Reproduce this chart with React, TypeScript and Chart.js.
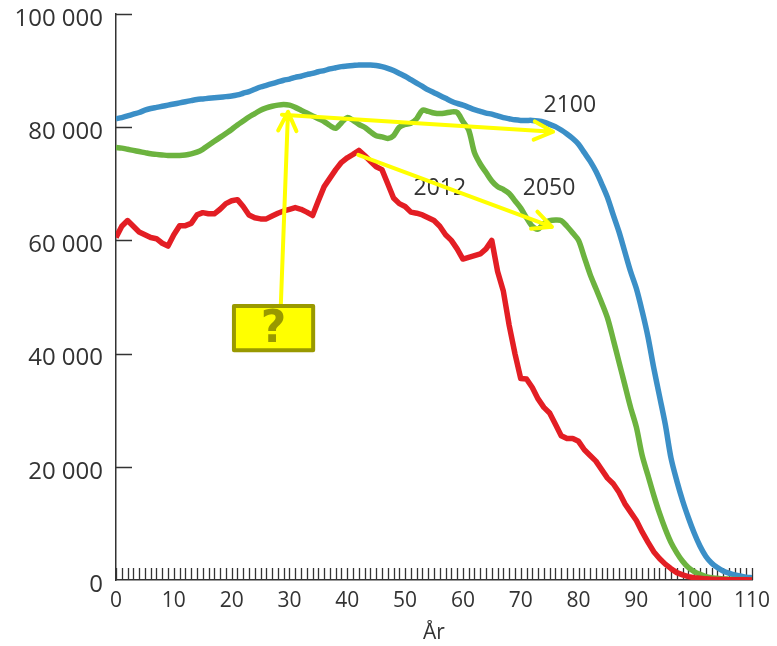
import React, { useEffect, useRef } from 'react';
import { Chart, registerables } from 'chart.js';

Chart.register(...registerables);

// Ages 0..110 (x categories)
const AGES: number[] = Array.from({ length: 111 }, (_, i) => i);

const X_TICKS = [0, 10, 20, 30, 40, 50, 60, 70, 80, 90, 100, 110];
const Y_TICKS = [0, 20000, 40000, 60000, 80000, 100000];

const SERIES_NAMES = ['2012', '2050', '2100'];

const POP_2012 = [
  60500, 62500, 63500, 62500, 61500, 61000, 60500, 60300, 59500, 59000,
  61000, 62600, 62600, 63000, 64500, 64900, 64700, 64700, 65500, 66500,
  67000, 67200, 66000, 64500, 64000, 63800, 63800, 64300, 64800, 65200,
  65500, 65800, 65500, 65000, 64400, 67000, 69500, 71000, 72500, 73800,
  74600, 75200, 75900, 75000, 74000, 73000, 72500, 70000, 67500, 66500,
  66000, 65000, 64800, 64500, 64000, 63500, 62500, 61000, 60000, 58500,
  56700, 57000, 57300, 57600, 58500, 60000, 54500, 51000, 45000, 40000,
  35600, 35500, 34000, 32000, 30500, 29500, 27500, 25500, 25000, 25000,
  24500, 23000, 22000, 21000, 19500, 18000, 17000, 15500, 13500, 12000,
  10500, 8500, 6700, 5000, 3800, 2800, 2000, 1300, 900, 600,
  400, 300, 200, 150, 100, 80, 60, 50, 40, 30, 20,
];

const POP_2050 = [
  76400, 76300, 76100, 75900, 75700, 75500, 75300, 75200, 75100, 75000,
  75000, 75000, 75100, 75300, 75600, 76100, 76800, 77500, 78200, 78900,
  79600, 80400, 81100, 81800, 82400, 83000, 83400, 83700, 83900, 84000,
  83900, 83500, 83000, 82500, 82000, 81500, 81000, 80300, 79800, 80800,
  81700, 81200, 80500, 80000, 79200, 78500, 78300, 78000, 78500, 80000,
  80500, 80700, 81500, 83000, 82800, 82500, 82400, 82500, 82700, 82600,
  81000, 79500, 75500, 73500, 72000, 70500, 69500, 69000, 68300, 67000,
  65700, 64000, 62500, 62000, 63000, 63500, 63600, 63500, 62500, 61300,
  60000, 57000, 54000, 51500, 49000, 46300, 42500, 38500, 34500, 30500,
  27000, 22000, 18500, 15000, 11800, 9000, 6600, 4800, 3300, 2200,
  1500, 1000, 600, 400, 300, 200, 150, 100, 80, 60, 50,
];

const POP_2100 = [
  81500, 81700, 82000, 82300, 82600, 83000, 83300, 83500, 83700, 83900,
  84100, 84300, 84500, 84700, 84900, 85000, 85100, 85200, 85300, 85400,
  85500, 85700, 86000, 86300, 86700, 87100, 87400, 87700, 88000, 88300,
  88500, 88800, 89000, 89300, 89500, 89800, 90000, 90300, 90500, 90700,
  90800, 90900, 91000, 91000, 91000, 90900, 90700, 90400, 90000, 89500,
  89000, 88400, 87800, 87200, 86600, 86100, 85600, 85100, 84600, 84200,
  83900, 83500, 83100, 82800, 82500, 82300, 82000, 81700, 81500, 81300,
  81200, 81200, 81200, 81100, 80900, 80500, 80100, 79500, 78800, 78000,
  77000, 75500, 74000, 72200, 70000, 67600, 64500, 61500, 58000, 54500,
  51500, 47500, 43000, 37500, 32500, 27500, 21500, 17500, 14000, 11000,
  8300, 6000, 4200, 3000, 2200, 1600, 1200, 900, 700, 500, 400,
];

// Annotations placed in data coordinates (age, population)
const ANNOT_LABELS = [
  { text: '2100', age: 78.5, value: 83900 },
  { text: '2012', age: 56, value: 69100 },
  { text: '2050', age: 74.9, value: 69100 },
];
const ANNOT_ARROWS = [
  { from: [28.5, 48400], to: [29.75, 82700] },
  { from: [28.7, 82200], to: [75.6, 79200] },
  { from: [41.9, 75100], to: [75.4, 62400] },
];
const ANNOT_BOX = { age0: 20.4, age1: 34.1, v0: 48400, v1: 40600, text: '?' };

const FONT = "'Open Sans', 'DejaVu Sans', sans-serif";
const INK = '#333333';

const fmt = (v: number) => String(v).replace(/\B(?=(\d{3})+(?!\d))/g, ' ');

const decorPlugin = {
  id: 'decor',
  beforeDatasetsDraw(chart: any) {
    const { ctx, chartArea, scales } = chart;
    const x = scales.x;
    const y = scales.y;
    ctx.save();
    ctx.strokeStyle = INK;
    ctx.lineWidth = 1.3;
    ctx.beginPath();
    for (const a of AGES) {
      const px = Math.round(x.getPixelForValue(a)) + 0.5;
      ctx.moveTo(px, chartArea.bottom);
      ctx.lineTo(px, chartArea.bottom - 12);
    }
    for (const v of Y_TICKS) {
      if (v === 0) continue;
      const py = Math.round(y.getPixelForValue(v)) + 0.5;
      ctx.moveTo(chartArea.left, py);
      ctx.lineTo(chartArea.left + 16, py);
    }
    ctx.stroke();
    ctx.restore();
  },
  afterDatasetsDraw(chart: any) {
    const { ctx, scales } = chart;
    const x = scales.x;
    const y = scales.y;
    ctx.save();
    // labels
    ctx.fillStyle = INK;
    ctx.font = `23px ${FONT}`;
    ctx.textAlign = 'center';
    ctx.textBaseline = 'middle';
    for (const l of ANNOT_LABELS) {
      ctx.fillText(l.text, x.getPixelForValue(l.age), y.getPixelForValue(l.value));
    }
    // arrows
    ctx.strokeStyle = '#ffff00';
    ctx.lineWidth = 4;
    ctx.lineCap = 'round';
    ctx.lineJoin = 'round';
    for (const a of ANNOT_ARROWS) {
      const x0 = x.getPixelForValue(a.from[0]);
      const y0 = y.getPixelForValue(a.from[1]);
      const x1 = x.getPixelForValue(a.to[0]);
      const y1 = y.getPixelForValue(a.to[1]);
      const ang = Math.atan2(y1 - y0, x1 - x0);
      const hl = 21;
      const ha = 0.45;
      ctx.beginPath();
      ctx.moveTo(x0, y0);
      ctx.lineTo(x1, y1);
      ctx.moveTo(x1 - hl * Math.cos(ang - ha), y1 - hl * Math.sin(ang - ha));
      ctx.lineTo(x1, y1);
      ctx.lineTo(x1 - hl * Math.cos(ang + ha), y1 - hl * Math.sin(ang + ha));
      ctx.stroke();
    }
    // box
    const bx0 = x.getPixelForValue(ANNOT_BOX.age0);
    const bx1 = x.getPixelForValue(ANNOT_BOX.age1);
    const by0 = y.getPixelForValue(ANNOT_BOX.v0);
    const by1 = y.getPixelForValue(ANNOT_BOX.v1);
    ctx.fillStyle = '#ffff00';
    ctx.strokeStyle = '#999900';
    ctx.lineWidth = 4;
    ctx.beginPath();
    ctx.rect(bx0, by0, bx1 - bx0, by1 - by0);
    ctx.fill();
    ctx.stroke();
    ctx.fillStyle = '#999900';
    ctx.font = `bold 44px 'DejaVu Sans', sans-serif`;
    ctx.textAlign = 'center';
    ctx.textBaseline = 'middle';
    ctx.fillText(ANNOT_BOX.text, (bx0 + bx1) / 2, (by0 + by1) / 2 + 2);
    ctx.restore();
  },
};

export default function App() {
  const ref = useRef<HTMLCanvasElement>(null);
  useEffect(() => {
    const mk = (vals: number[]) => AGES.map((a, i) => ({ x: a, y: vals[i] }));
    const chart = new Chart(ref.current!, {
      type: 'line',
      data: {
        datasets: [
          { label: SERIES_NAMES[0], data: mk(POP_2012), borderColor: '#e31e24', borderWidth: 5.5, pointRadius: 0, tension: 0, borderJoinStyle: 'round' as const },
          { label: SERIES_NAMES[1], data: mk(POP_2050), borderColor: '#6cb33f', borderWidth: 5.5, pointRadius: 0, tension: 0.3, borderJoinStyle: 'round' as const },
          { label: SERIES_NAMES[2], data: mk(POP_2100), borderColor: '#3b8fc7', borderWidth: 5.5, pointRadius: 0, tension: 0.3, borderJoinStyle: 'round' as const },
        ],
      },
      options: {
        responsive: false,
        animation: false,
        devicePixelRatio: 1,
        layout: { padding: { left: 0, right: 25, top: 14, bottom: 0 } },
        plugins: { legend: { display: false }, tooltip: { enabled: false } },
        scales: {
          x: {
            type: 'linear',
            min: 0,
            max: 110,
            afterBuildTicks: (s: any) => { s.ticks = X_TICKS.map((v) => ({ value: v })); },
            afterFit: (s: any) => { s.height = 66; s.paddingLeft = 0; s.paddingRight = 0; },
            ticks: { color: INK, font: { family: FONT, size: 21 }, padding: 8, maxRotation: 0, autoSkip: false },
            grid: { display: false, drawTicks: false },
            border: { display: true, color: INK, width: 1.5 },
            title: { display: true, text: 'År', color: INK, font: { family: FONT, size: 21 }, padding: { top: 0, bottom: 0 } },
          },
          y: {
            type: 'linear',
            min: 0,
            max: 100000,
            afterBuildTicks: (s: any) => { s.ticks = Y_TICKS.map((v) => ({ value: v })); },
            afterFit: (s: any) => { s.width = 116; s.paddingTop = 0; s.paddingBottom = 0; },
            ticks: { color: INK, font: { family: FONT, size: 24 }, padding: 13, labelOffset: 5, callback: (v: any) => fmt(Number(v)) },
            grid: { display: false, drawTicks: false },
            border: { display: true, color: INK, width: 1.5 },
          },
        },
      },
      plugins: [decorPlugin],
    });
    return () => chart.destroy();
  }, []);
  return (
    <div style={{ position: 'absolute', left: 0, top: 0, width: 777, height: 646, background: '#fff' }}>
      <canvas ref={ref} width={777} height={646} style={{ display: 'block', width: 777, height: 646 }} />
    </div>
  );
}
